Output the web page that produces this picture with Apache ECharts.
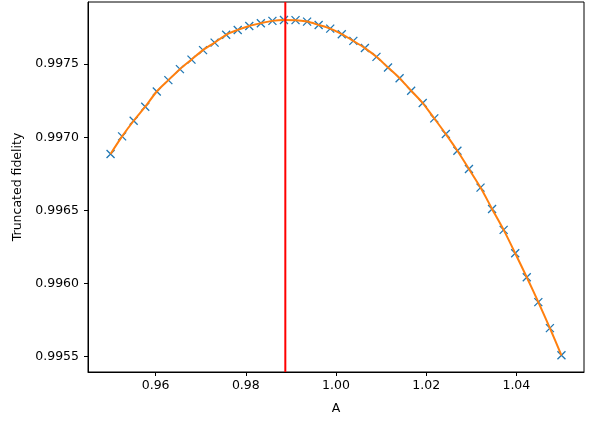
<!DOCTYPE html>
<html>
<head>
<meta charset="utf-8">
<script src="https://cdn.jsdelivr.net/npm/echarts@6/dist/echarts.min.js"></script>
<style>
  html, body { margin: 0; padding: 0; background: #fff; }
  #chart { width: 593px; height: 425px; }
</style>
</head>
<body>
<div id="chart"></div>
<script>
  // A values (40 evenly spaced points between 0.95 and 1.05)
  var aValues = [
    0.95, 0.952564, 0.955128, 0.957692, 0.960256, 0.962821, 0.965385, 0.967949,
    0.970513, 0.973077, 0.975641, 0.978205, 0.980769, 0.983333, 0.985897, 0.988462,
    0.991026, 0.993590, 0.996154, 0.998718, 1.001282, 1.003846, 1.006410, 1.008974,
    1.011538, 1.014103, 1.016667, 1.019231, 1.021795, 1.024359, 1.026923, 1.029487,
    1.032051, 1.034615, 1.037179, 1.039744, 1.042308, 1.044872, 1.047436, 1.05
  ];
  var fidelity = [
    0.996886, 0.997006, 0.997113, 0.997209, 0.997313, 0.997391, 0.997466, 0.997531,
    0.997596, 0.997647, 0.997701, 0.997734, 0.997761, 0.997780, 0.997796, 0.997802,
    0.997801, 0.997791, 0.997768, 0.997743, 0.997705, 0.997659, 0.997610, 0.997550,
    0.997477, 0.997404, 0.997318, 0.997234, 0.997129, 0.997022, 0.996908, 0.996783,
    0.996656, 0.996510, 0.996367, 0.996207, 0.996043, 0.995873, 0.995695, 0.995509
  ];
  var optimumA = 0.98876;
  var xTicks = [0.96, 0.98, 1.00, 1.02, 1.04];
  var yTicks = [0.9955, 0.9960, 0.9965, 0.9970, 0.9975];
  var yMin = 0.995395;
  var yMax = 0.997925;

  var points = aValues.map(function (a, i) { return [a, fidelity[i]]; });
  var font = "DejaVu Sans";

  var chartDom = document.getElementById("chart");
  var myChart = echarts.init(chartDom, null, { renderer: "canvas" });
  var option = {
    animation: false,
    grid: {
      left: 88, right: 9, top: 2, bottom: 53,
      outerBoundsMode: "none",
      containLabel: false,
      show: true, borderColor: "#000", borderWidth: 1, backgroundColor: "transparent"
    },
    xAxis: {
      type: "value",
      min: 0.945,
      max: 1.055,
      name: "A",
      nameLocation: "middle",
      nameGap: 30,
      nameTextStyle: { fontFamily: font, fontSize: 12.5, color: "#000" },
      axisLine: { show: true, onZero: false, lineStyle: { color: "#000", width: 1 } },
      axisTick: { show: true, inside: false, length: 4, customValues: xTicks, lineStyle: { color: "#000" } },
      axisLabel: {
        customValues: xTicks,
        margin: 7,
        fontFamily: font, fontSize: 12.5, color: "#000",
        formatter: function (v) { return v.toFixed(2); }
      },
      splitLine: { show: false }
    },
    yAxis: {
      type: "value",
      min: yMin,
      max: yMax,
      name: "Truncated fidelity",
      nameLocation: "middle",
      nameGap: 64,
      nameTextStyle: { fontFamily: font, fontSize: 12.5, color: "#000" },
      axisLine: { show: true, onZero: false, lineStyle: { color: "#000", width: 1 } },
      axisTick: { show: true, inside: false, length: 4, customValues: yTicks, lineStyle: { color: "#000" } },
      axisLabel: {
        customValues: yTicks,
        margin: 9,
        fontFamily: font, fontSize: 12.5, color: "#000",
        formatter: function (v) { return v.toFixed(4); }
      },
      splitLine: { show: false }
    },
    series: [
      {
        type: "scatter",
        data: points,
        symbol: "path://M0 0L10 10M10 0L0 10",
        symbolSize: 8,
        itemStyle: { color: "transparent", borderColor: "#1f77b4", borderWidth: 1.3, opacity: 1 },
        z: 2
      },
      {
        type: "line",
        data: points,
        smooth: 0.3,
        showSymbol: false,
        lineStyle: { color: "#ff7f0e", width: 2 },
        z: 3
      },
      {
        // vertical marker at the optimum A
        type: "line",
        data: [[optimumA, yMin], [optimumA, yMax]],
        showSymbol: false,
        lineStyle: { color: "#ff0000", width: 2 },
        z: 4
      }
    ]
  };
  option && myChart.setOption(option);
</script>
</body>
</html>
